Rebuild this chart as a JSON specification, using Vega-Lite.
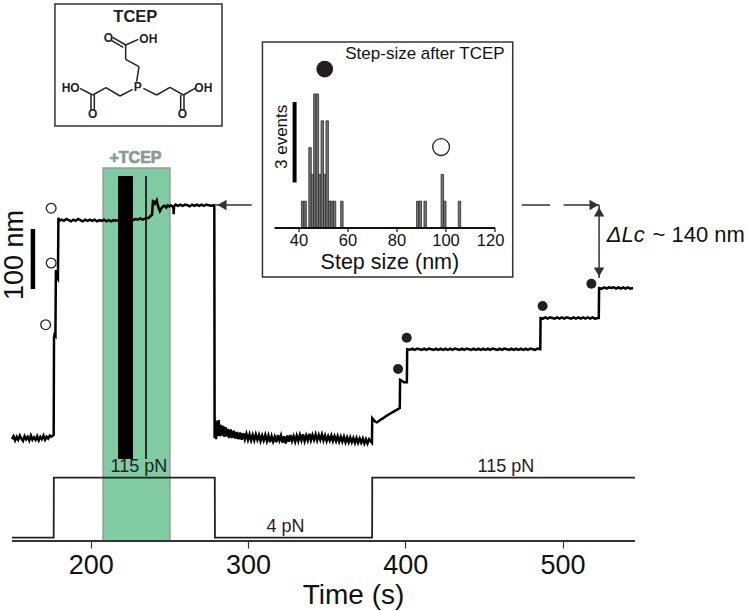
{"$schema":"https://vega.github.io/schema/vega-lite/v6.json","width":623,"height":541,"autosize":{"type":"none"},"padding":{"left":12,"top":0,"right":115,"bottom":70},"background":"white","config":{"font":"Liberation Sans","view":{"stroke":null}},
"datasets":{
"trace":[{"t":150,"nm":-2},{"t":151,"nm":3},{"t":152,"nm":-4},{"t":153,"nm":2},{"t":154,"nm":-3},{"t":155,"nm":4},{"t":156,"nm":-1},{"t":157,"nm":-5},{"t":158,"nm":3},{"t":159,"nm":-2},{"t":160,"nm":2},{"t":161,"nm":-4},{"t":162,"nm":4},{"t":163,"nm":-3},{"t":164,"nm":1},{"t":165,"nm":-3},{"t":166,"nm":3},{"t":167,"nm":-4},{"t":168,"nm":2},{"t":169,"nm":-2},{"t":170,"nm":4},{"t":171,"nm":-3},{"t":172,"nm":2},{"t":173,"nm":-1},{"t":174,"nm":4},{"t":175,"nm":2},{"t":176.5,"nm":5},{"t":176.7,"nm":168},{"t":177,"nm":172},{"t":177.6,"nm":170},{"t":177.9,"nm":280},{"t":178.7,"nm":267},{"t":179.2,"nm":265},{"t":179.5,"nm":367},{"t":180,"nm":362},{"t":181.5,"nm":364},{"t":183,"nm":362},{"t":184.5,"nm":365},{"t":186,"nm":363},{"t":187.5,"nm":361},{"t":189,"nm":364},{"t":190.5,"nm":362},{"t":192,"nm":365},{"t":193.5,"nm":363},{"t":195,"nm":361},{"t":196.5,"nm":364},{"t":198,"nm":362},{"t":199.5,"nm":364},{"t":201,"nm":362},{"t":202.5,"nm":364},{"t":204,"nm":361},{"t":205.5,"nm":363},{"t":207,"nm":362},{"t":208.5,"nm":364},{"t":210,"nm":361},{"t":211.5,"nm":363},{"t":213,"nm":361},{"t":214.5,"nm":363},{"t":216,"nm":362},{"t":217.5,"nm":363},{"t":220,"nm":363},{"t":224,"nm":364},{"t":227,"nm":363},{"t":228.5,"nm":365},{"t":230,"nm":364},{"t":231.5,"nm":366},{"t":233,"nm":364},{"t":235,"nm":366},{"t":237,"nm":367},{"t":238,"nm":370},{"t":239,"nm":372},{"t":239.6,"nm":395},{"t":240.5,"nm":394},{"t":241,"nm":391},{"t":242,"nm":396},{"t":243,"nm":385},{"t":244,"nm":378},{"t":245,"nm":383},{"t":246,"nm":386},{"t":247,"nm":387},{"t":248,"nm":384},{"t":249,"nm":388},{"t":250,"nm":386},{"t":251,"nm":388},{"t":252,"nm":386},{"t":252.6,"nm":385},{"t":252.8,"nm":373},{"t":253,"nm":386},{"t":254,"nm":389},{"t":255.5,"nm":387},{"t":257,"nm":389},{"t":258.5,"nm":387},{"t":260,"nm":389},{"t":261.5,"nm":388},{"t":263,"nm":386},{"t":264.5,"nm":389},{"t":266,"nm":387},{"t":267.5,"nm":389},{"t":269,"nm":387},{"t":270.5,"nm":389},{"t":272,"nm":387},{"t":273.5,"nm":389},{"t":275,"nm":388},{"t":276.5,"nm":387},{"t":278.6,"nm":388},{"t":278.8,"nm":0},{"t":279.2,"nm":30},{"t":279.7,"nm":-2},{"t":280.2,"nm":28},{"t":280.8,"nm":3},{"t":281.4,"nm":30},{"t":282,"nm":3},{"t":282.7,"nm":22},{"t":283.5,"nm":4},{"t":284.2,"nm":20},{"t":285,"nm":2},{"t":285.7,"nm":18},{"t":286.5,"nm":3},{"t":287.2,"nm":15},{"t":288,"nm":0},{"t":289,"nm":14},{"t":290,"nm":0},{"t":291,"nm":12},{"t":292,"nm":-1},{"t":293,"nm":10},{"t":294,"nm":-2},{"t":295,"nm":9},{"t":296,"nm":-3},{"t":297,"nm":8},{"t":298,"nm":-2},{"t":299,"nm":7},{"t":300,"nm":-3},{"t":301,"nm":6},{"t":302,"nm":-4},{"t":303,"nm":5},{"t":304,"nm":-4},{"t":305,"nm":6},{"t":306,"nm":-3},{"t":307,"nm":5},{"t":308,"nm":-5},{"t":309,"nm":4},{"t":310,"nm":-4},{"t":311,"nm":5},{"t":312,"nm":-5},{"t":313,"nm":4},{"t":314,"nm":-7},{"t":315,"nm":3},{"t":316,"nm":-6},{"t":317,"nm":2},{"t":318,"nm":-7},{"t":319,"nm":5},{"t":320,"nm":-4},{"t":321,"nm":4},{"t":322,"nm":-8},{"t":323,"nm":3},{"t":324,"nm":-9},{"t":325,"nm":4},{"t":326,"nm":-6},{"t":327,"nm":5},{"t":328,"nm":-5},{"t":329,"nm":3},{"t":330,"nm":-6},{"t":331,"nm":4},{"t":332,"nm":-5},{"t":333,"nm":5},{"t":334,"nm":-4},{"t":335,"nm":6},{"t":336,"nm":-5},{"t":337,"nm":4},{"t":338,"nm":-4},{"t":339,"nm":7},{"t":340,"nm":-4},{"t":341,"nm":5},{"t":342,"nm":-3},{"t":343,"nm":6},{"t":344,"nm":-4},{"t":345,"nm":5},{"t":346,"nm":-3},{"t":347,"nm":6},{"t":348,"nm":-4},{"t":349,"nm":4},{"t":350,"nm":-5},{"t":351,"nm":3},{"t":352,"nm":-4},{"t":353,"nm":4},{"t":354,"nm":-5},{"t":355,"nm":3},{"t":356,"nm":-5},{"t":357,"nm":3},{"t":358,"nm":-6},{"t":359,"nm":2},{"t":360,"nm":-6},{"t":361,"nm":2},{"t":362,"nm":-7},{"t":363,"nm":1},{"t":364,"nm":-7},{"t":365,"nm":1},{"t":366,"nm":-7},{"t":367,"nm":0},{"t":368,"nm":-8},{"t":369,"nm":0},{"t":370,"nm":-8},{"t":371,"nm":-1},{"t":372,"nm":-8},{"t":373,"nm":-1},{"t":374,"nm":-9},{"t":375,"nm":-2},{"t":376,"nm":-9},{"t":377,"nm":-2},{"t":378.8,"nm":-8},{"t":379,"nm":33},{"t":380,"nm":30},{"t":381,"nm":27},{"t":382,"nm":26},{"t":384,"nm":30},{"t":386,"nm":33},{"t":388,"nm":37},{"t":390,"nm":40},{"t":392,"nm":43},{"t":394,"nm":46},{"t":396.5,"nm":50},{"t":396.7,"nm":97},{"t":398,"nm":95},{"t":399,"nm":93},{"t":400,"nm":93},{"t":401,"nm":93},{"t":401.2,"nm":148},{"t":403,"nm":147},{"t":404.5,"nm":149},{"t":406,"nm":147},{"t":407.5,"nm":149},{"t":409,"nm":148},{"t":410.5,"nm":147},{"t":412,"nm":149},{"t":413.5,"nm":147},{"t":415,"nm":149},{"t":416.5,"nm":148},{"t":418,"nm":147},{"t":419.5,"nm":149},{"t":421,"nm":147},{"t":422.5,"nm":149},{"t":424,"nm":147},{"t":425.5,"nm":149},{"t":427,"nm":147},{"t":428.5,"nm":149},{"t":430,"nm":147},{"t":431.5,"nm":149},{"t":433,"nm":148},{"t":434.5,"nm":147},{"t":436,"nm":149},{"t":437.5,"nm":147},{"t":439,"nm":149},{"t":440.5,"nm":148},{"t":442,"nm":147},{"t":443.5,"nm":149},{"t":445,"nm":147},{"t":446.5,"nm":149},{"t":448,"nm":147},{"t":449.5,"nm":149},{"t":451,"nm":147},{"t":452.5,"nm":149},{"t":454,"nm":147},{"t":455.5,"nm":149},{"t":457,"nm":148},{"t":458.5,"nm":147},{"t":460,"nm":149},{"t":461.5,"nm":147},{"t":463,"nm":149},{"t":464.5,"nm":148},{"t":466,"nm":147},{"t":467.5,"nm":149},{"t":469,"nm":147},{"t":470.5,"nm":149},{"t":472,"nm":147},{"t":473.5,"nm":149},{"t":475,"nm":147},{"t":476.5,"nm":149},{"t":478,"nm":147},{"t":479.5,"nm":149},{"t":481,"nm":148},{"t":482.5,"nm":147},{"t":484,"nm":149},{"t":485.8,"nm":148},{"t":486,"nm":200},{"t":487.5,"nm":199},{"t":489,"nm":201},{"t":490.5,"nm":199},{"t":492,"nm":201},{"t":493.5,"nm":200},{"t":495,"nm":199},{"t":496.5,"nm":201},{"t":498,"nm":199},{"t":499.5,"nm":201},{"t":501,"nm":199},{"t":502.5,"nm":201},{"t":504,"nm":200},{"t":505.5,"nm":199},{"t":507,"nm":201},{"t":508.5,"nm":199},{"t":510,"nm":201},{"t":511.5,"nm":199},{"t":513,"nm":201},{"t":514.5,"nm":199},{"t":516,"nm":201},{"t":517.5,"nm":199},{"t":519,"nm":201},{"t":520.5,"nm":199},{"t":523,"nm":200},{"t":523.2,"nm":250},{"t":525,"nm":249},{"t":526.5,"nm":251},{"t":528,"nm":249},{"t":529.5,"nm":251},{"t":531,"nm":250},{"t":532.5,"nm":251},{"t":534,"nm":249},{"t":535.5,"nm":251},{"t":537,"nm":249},{"t":538.5,"nm":251},{"t":540,"nm":249},{"t":541.5,"nm":251},{"t":543,"nm":249},{"t":544.8,"nm":250}],
"force":[{"t":150,"pN":4},{"t":176.5,"pN":4},{"t":176.6,"pN":115},{"t":278.9,"pN":115},{"t":279,"pN":4},{"t":378.9,"pN":4},{"t":379,"pN":115},{"t":546,"pN":115}],
"hist":[{"a":41,"b":42,"n":1},{"a":42,"b":43,"n":1},{"a":44,"b":45,"n":3},{"a":45,"b":46,"n":2},{"a":46,"b":47,"n":5},{"a":47,"b":48,"n":5},{"a":48,"b":49,"n":2},{"a":49,"b":50,"n":4},{"a":50,"b":51,"n":2},{"a":51,"b":52,"n":4},{"a":52,"b":53,"n":1},{"a":53,"b":54,"n":1},{"a":54,"b":55,"n":1},{"a":57,"b":58,"n":1},{"a":88,"b":89,"n":1},{"a":89,"b":90,"n":1},{"a":91,"b":92,"n":1},{"a":98,"b":99,"n":2},{"a":99,"b":100,"n":1},{"a":105,"b":106,"n":1}],
"bonds":[{"x":290,"y":245,"x2":297,"y2":200},{"x":297,"y":200,"x2":257,"y2":178},{"x":257,"y":178,"x2":257,"y2":135},{"x":257,"y":135,"x2":295,"y2":118},{"x":257,"y":135,"x2":218,"y2":112},{"x":250,"y":142,"x2":214,"y2":121},{"x":278,"y":268,"x2":240,"y2":288},{"x":240,"y":288,"x2":198,"y2":263},{"x":198,"y":263,"x2":158,"y2":285},{"x":158,"y":285,"x2":120,"y2":265},{"x":153,"y":285,"x2":153,"y2":330},{"x":163,"y":285,"x2":163,"y2":330},{"x":310,"y":265,"x2":350,"y2":285},{"x":350,"y":285,"x2":390,"y2":262},{"x":390,"y":262,"x2":430,"y2":285},{"x":430,"y":285,"x2":465,"y2":265},{"x":422,"y":285,"x2":422,"y2":330},{"x":432,"y":285,"x2":432,"y2":330}],
"atoms":[{"x":293,"y":262,"a":"P"},{"x":205,"y":113,"a":"O"},{"x":325,"y":116,"a":"OH"},{"x":92,"y":263,"a":"HO"},{"x":490,"y":265,"a":"OH"},{"x":158,"y":343,"a":"O"},{"x":427,"y":343,"a":"O"}]
},
"layer":[
{"layer":[
{"data":{"values":[{"t":207.9,"t2":250.4,"nm":450,"nm2":-171.67}]},"mark":{"type":"rect","fill":"#80CBA1","stroke":"#9a9a9a","strokeWidth":1.5},"encoding":{"x":{"field":"t","type":"quantitative","scale":{"domain":[150,619],"range":[0,737.8],"nice":false,"zero":false},"axis":{"values":[200,300,400,500],"title":"Time (s)","titleFontSize":28,"titleFontWeight":"normal","titleColor":"#111","labelFontSize":27,"labelColor":"#111","labelPadding":4,"tickSize":7,"tickColor":"#333","tickWidth":1.2,"domain":false,"grid":false,"titleX":341,"titleY":62,"titleBaseline":"alphabetic","titleAlign":"center"}},"x2":{"field":"t2"},"y":{"field":"nm","type":"quantitative","scale":{"domain":[-171.67,730],"nice":false,"zero":false},"axis":null},"y2":{"field":"nm2"}}},
{"data":{"values":[{"t":217.4,"t2":226.9,"nm":436.7,"nm2":-35}]},"mark":{"type":"rect","fill":"black"},"encoding":{"x":{"field":"t","type":"quantitative"},"x2":{"field":"t2"},"y":{"field":"nm","type":"quantitative"},"y2":{"field":"nm2"}}},
{"data":{"values":[{"t":235.2,"nm":436.7,"nm2":-35}]},"mark":{"type":"rule","color":"black","strokeWidth":1.5},"encoding":{"x":{"field":"t","type":"quantitative"},"y":{"field":"nm","type":"quantitative"},"y2":{"field":"nm2"}}},
{"data":{"values":[{"t":150,"t2":546,"nm":-171.67,"nm2":-171.67}]},"mark":{"type":"rule","color":"#333","strokeWidth":1.8},"encoding":{"x":{"field":"t","type":"quantitative"},"x2":{"field":"t2"},"y":{"field":"nm","type":"quantitative"},"y2":{"field":"nm2"}}},
{"data":{"name":"trace"},"mark":{"type":"line","color":"black","strokeWidth":2.5,"interpolate":"linear"},"encoding":{"x":{"field":"t","type":"quantitative"},"y":{"field":"nm","type":"quantitative"}}},
{"data":{"values":[{"t":177.3,"t2":283.5,"nm":723.3,"nm2":520}]},"mark":{"type":"rect","fill":"white","stroke":"#333","strokeWidth":1.5},"encoding":{"x":{"field":"t","type":"quantitative"},"x2":{"field":"t2"},"y":{"field":"nm","type":"quantitative"},"y2":{"field":"nm2"}}},
{"data":{"values":[{"t":309.2,"t2":468.3,"nm":660,"nm2":268.3}]},"mark":{"type":"rect","fill":"white","stroke":"#333","strokeWidth":1.5},"encoding":{"x":{"field":"t","type":"quantitative"},"x2":{"field":"t2"},"y":{"field":"nm","type":"quantitative"},"y2":{"field":"nm2"}}},
{"data":{"values":[{"t":163.3,"t2":163.3,"nm":348.3,"nm2":248.3}]},"mark":{"type":"rule","color":"black","strokeWidth":4.5},"encoding":{"x":{"field":"t","type":"quantitative"},"y":{"field":"nm","type":"quantitative"},"y2":{"field":"nm2"}}},
{"data":{"values":[{"t":302.4,"t2":279.7,"nm":388.3,"nm2":388.3},{"t":474,"t2":492,"nm":388.3,"nm2":388.3},{"t":500.7,"t2":523.2,"nm":388.3,"nm2":388.3},{"t":523.2,"t2":523.2,"nm":388.3,"nm2":266.7}]},"mark":{"type":"rule","color":"#333","strokeWidth":1.5},"encoding":{"x":{"field":"t","type":"quantitative"},"x2":{"field":"t2"},"y":{"field":"nm","type":"quantitative"},"y2":{"field":"nm2"}}},
{"data":{"values":[{"t":283.5,"nm":388.3,"head":"triangle-left"},{"t":520,"nm":388.3,"head":"triangle-right"},{"t":523.2,"nm":376.7,"head":"triangle-up"},{"t":523.2,"nm":276.7,"head":"triangle-down"}]},"mark":{"type":"point","filled":true,"color":"#333","size":110,"opacity":1},"encoding":{"x":{"field":"t","type":"quantitative"},"y":{"field":"nm","type":"quantitative"},"shape":{"field":"head","type":"nominal","scale":null,"legend":null}}},
{"data":{"values":[{"t":174.9,"nm":383},{"t":174.9,"nm":291.7},{"t":171.4,"nm":188.8}]},"mark":{"type":"point","fill":"white","stroke":"#222","strokeWidth":1.3,"size":95,"opacity":1},"encoding":{"x":{"field":"t","type":"quantitative"},"y":{"field":"nm","type":"quantitative"}}},
{"data":{"values":[{"t":395.4,"nm":115},{"t":400.9,"nm":167},{"t":487.3,"nm":220},{"t":518.3,"nm":257}]},"mark":{"type":"point","filled":true,"color":"#231f20","size":100,"opacity":1},"encoding":{"x":{"field":"t","type":"quantitative"},"y":{"field":"nm","type":"quantitative"}}},
{"data":{"values":[{"t":228.5,"nm":467,"s":"+TCEP"}]},"mark":{"type":"text","fontSize":16,"fontWeight":"bold","color":"#8a9a92","stroke":"#8a9a92","strokeWidth":0.7,"align":"center","baseline":"middle"},"encoding":{"x":{"field":"t","type":"quantitative"},"y":{"field":"nm","type":"quantitative"},"text":{"field":"s"}}},
{"data":{"values":[{"t":230.7,"nm":-48.3,"s":"115 pN"},{"t":464,"nm":-48.3,"s":"115 pN"},{"t":323.9,"nm":-148.3,"s":"4 pN"}]},"mark":{"type":"text","fontSize":18,"color":"#222","align":"center","baseline":"middle"},"encoding":{"x":{"field":"t","type":"quantitative"},"y":{"field":"nm","type":"quantitative"},"text":{"field":"s"}}},
{"data":{"values":[{"t":151.9,"nm":305,"s":"100 nm"}]},"mark":{"type":"text","fontSize":27,"color":"#111","angle":270,"align":"center","baseline":"middle"},"encoding":{"x":{"field":"t","type":"quantitative"},"y":{"field":"nm","type":"quantitative"},"text":{"field":"s"}}},
{"data":{"values":[{"t":528,"nm":338,"s":"ΔLc"}]},"mark":{"type":"text","fontSize":22,"fontStyle":"italic","color":"#111","align":"left","baseline":"middle"},"encoding":{"x":{"field":"t","type":"quantitative"},"y":{"field":"nm","type":"quantitative"},"text":{"field":"s"}}},
{"data":{"values":[{"t":557.2,"nm":338,"s":"~ 140 nm"}]},"mark":{"type":"text","fontSize":22,"color":"#111","align":"left","baseline":"middle"},"encoding":{"x":{"field":"t","type":"quantitative"},"y":{"field":"nm","type":"quantitative"},"text":{"field":"s"}}}
]},
{"layer":[
{"data":{"name":"force"},"mark":{"type":"line","color":"#222","strokeWidth":1.8,"interpolate":"linear"},"encoding":{"x":{"field":"t","type":"quantitative","scale":{"domain":[150,546],"nice":false,"zero":false},"axis":null},"y":{"field":"pN","type":"quantitative","scale":{"domain":[4,115],"range":[537.7,477.7],"nice":false,"zero":false},"axis":null}}}
]},
{"layer":[
{"data":{"name":"hist"},"mark":{"type":"rect","fill":"#777","stroke":"#2a2a2a","strokeWidth":0.8},"encoding":{"x":{"field":"a","type":"quantitative","scale":{"domain":[30,120],"range":[262.5,483],"nice":false,"zero":false},"axis":null},"x2":{"field":"b"},"y":{"field":"n","type":"quantitative","scale":{"domain":[-2,7],"range":[281.6,40.4],"nice":false,"zero":false},"axis":null},"y2":{"datum":0}}},
{"data":{"values":[{"a":30,"b":120,"n":0}]},"mark":{"type":"rule","color":"#111","strokeWidth":2},"encoding":{"x":{"field":"a","type":"quantitative"},"x2":{"field":"b"},"y":{"field":"n","type":"quantitative"}}},
{"data":{"values":[{"a":40,"n":0,"n2":-0.15},{"a":60,"n":0,"n2":-0.15},{"a":80,"n":0,"n2":-0.15},{"a":100,"n":0,"n2":-0.15},{"a":120,"n":0,"n2":-0.15}]},"mark":{"type":"rule","color":"#111","strokeWidth":1.2},"encoding":{"x":{"field":"a","type":"quantitative"},"y":{"field":"n","type":"quantitative"},"y2":{"field":"n2"}}},
{"data":{"values":[{"a":40,"n":-0.5,"s":"40"},{"a":60,"n":-0.5,"s":"60"},{"a":80,"n":-0.5,"s":"80"},{"a":100,"n":-0.5,"s":"100"},{"a":118.2,"n":-0.5,"s":"120"}]},"mark":{"type":"text","fontSize":16.5,"color":"#111","align":"center","baseline":"middle"},"encoding":{"x":{"field":"a","type":"quantitative"},"y":{"field":"n","type":"quantitative"},"text":{"field":"s"}}},
{"data":{"values":[{"a":77.1,"n":-1.31,"s":"Step size (nm)"}]},"mark":{"type":"text","fontSize":21.5,"color":"#111","align":"center","baseline":"middle"},"encoding":{"x":{"field":"a","type":"quantitative"},"y":{"field":"n","type":"quantitative"},"text":{"field":"s"}}},
{"data":{"values":[{"a":38.2,"n":4.7,"n2":1.7}]},"mark":{"type":"rule","color":"black","strokeWidth":4},"encoding":{"x":{"field":"a","type":"quantitative"},"y":{"field":"n","type":"quantitative"},"y2":{"field":"n2"}}},
{"data":{"values":[{"a":50.5,"n":5.93}]},"mark":{"type":"point","filled":true,"color":"#231f20","size":283,"opacity":1},"encoding":{"x":{"field":"a","type":"quantitative"},"y":{"field":"n","type":"quantitative"}}},
{"data":{"values":[{"a":98,"n":3.02}]},"mark":{"type":"point","fill":"white","stroke":"#222","strokeWidth":1.3,"size":283,"opacity":1},"encoding":{"x":{"field":"a","type":"quantitative"},"y":{"field":"n","type":"quantitative"}}},
{"data":{"values":[{"a":33.1,"n":3.4,"s":"3 events"}]},"mark":{"type":"text","fontSize":17,"color":"#111","angle":270,"align":"center","baseline":"middle"},"encoding":{"x":{"field":"a","type":"quantitative"},"y":{"field":"n","type":"quantitative"},"text":{"field":"s"}}},
{"data":{"values":[{"a":91.4,"n":6.49,"s":"Step-size after TCEP"}]},"mark":{"type":"text","fontSize":17,"color":"#111","align":"center","baseline":"middle"},"encoding":{"x":{"field":"a","type":"quantitative"},"y":{"field":"n","type":"quantitative"},"text":{"field":"s"}}}
]},
{"layer":[
{"data":{"name":"bonds"},"mark":{"type":"rule","color":"#222","strokeWidth":1.5},"encoding":{"x":{"field":"x","type":"quantitative","scale":{"domain":[0,510],"range":[28,198],"nice":false,"zero":false},"axis":null},"x2":{"field":"x2"},"y":{"field":"y","type":"quantitative","scale":{"domain":[0,405],"range":[0,135],"nice":false,"zero":false},"axis":null},"y2":{"field":"y2"}}},
{"data":{"name":"atoms"},"mark":{"type":"text","fontSize":12,"fontWeight":"bold","color":"#222","align":"center","baseline":"middle"},"encoding":{"x":{"field":"x","type":"quantitative"},"y":{"field":"y","type":"quantitative"},"text":{"field":"a"}}},
{"data":{"values":[{"x":286,"y":50,"s":"TCEP"}]},"mark":{"type":"text","fontSize":16.5,"fontWeight":"bold","color":"#222","align":"center","baseline":"middle"},"encoding":{"x":{"field":"x","type":"quantitative"},"y":{"field":"y","type":"quantitative"},"text":{"field":"s"}}}
]}
],
"resolve":{"scale":{"x":"independent","y":"independent"},"axis":{"x":"independent","y":"independent"}}}
